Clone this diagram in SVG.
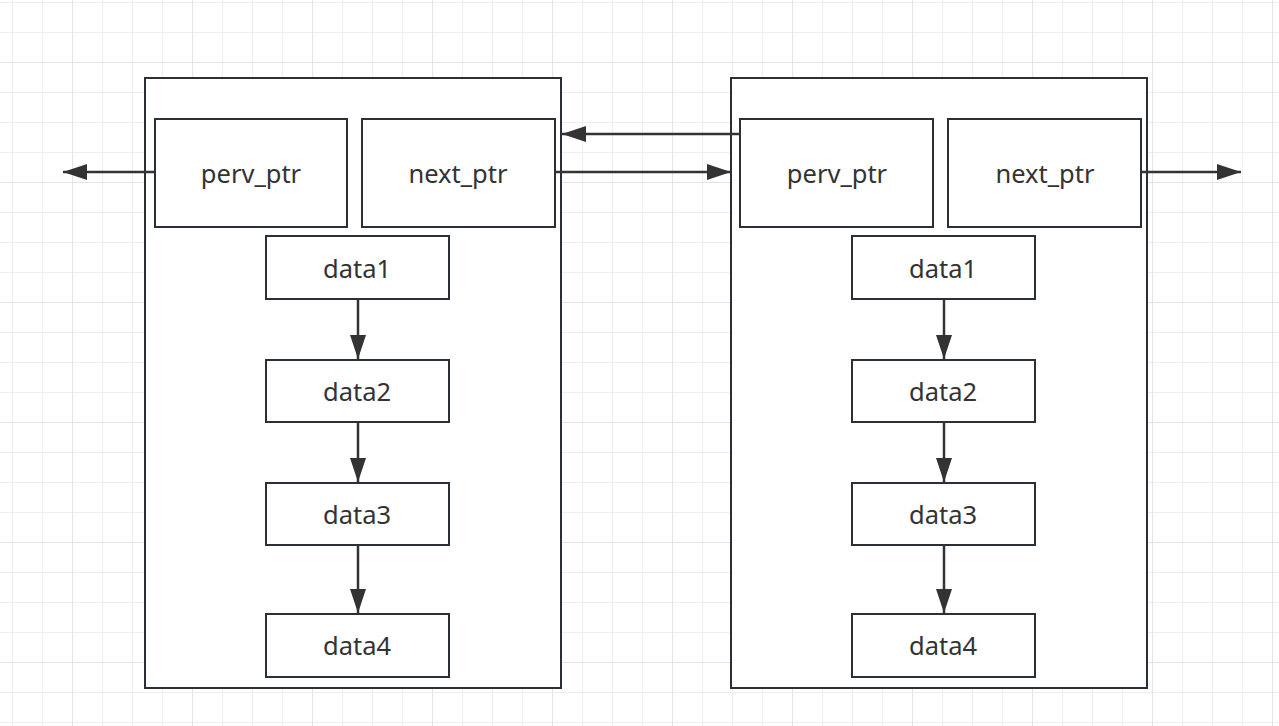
<svg xmlns="http://www.w3.org/2000/svg" width="1279" height="726" viewBox="0 0 1279 726">
<defs>
<pattern id="minor" x="12" y="2" width="30" height="30" patternUnits="userSpaceOnUse">
<path d="M0 0H30M0 0V30" fill="none" stroke="#eeeeee" stroke-width="2"/>
</pattern>
<pattern id="major" x="72" y="62" width="120" height="120" patternUnits="userSpaceOnUse">
<path d="M0 0H120M0 0V120" fill="none" stroke="#e4e4e4" stroke-width="2"/>
</pattern>
<marker id="arr" viewBox="0 0 24 16" refX="24" refY="8" markerWidth="24" markerHeight="16" markerUnits="userSpaceOnUse" orient="auto">
<path d="M0 0L24 8L0 16Z" fill="#333333"/>
</marker>
</defs>
<style>
.box{fill:#ffffff;stroke:#2b3038;stroke-width:2}
.t{font-family:"Noto Sans","Open Sans",sans-serif;font-size:25.5px;fill:#333333;text-anchor:middle;dominant-baseline:central}
.c{fill:none;stroke:#333333;stroke-width:2.5;marker-end:url(#arr)}
</style>
<rect width="1279" height="726" fill="#ffffff"/>
<rect width="1279" height="726" fill="url(#minor)"/>
<rect width="1279" height="726" fill="url(#major)"/>

<g id="nodeA">
<rect class="box" x="145" y="78" width="416" height="610"/>
</g>
<g id="nodeA-perv"><rect class="box" x="155" y="119" width="192" height="108"/><text class="t" x="251" y="173">perv_ptr</text></g>
<g id="nodeA-next"><rect class="box" x="362" y="119" width="193" height="108"/><text class="t" x="458" y="173">next_ptr</text></g>
<g id="nodeA-d1"><rect class="box" x="266" y="236" width="183" height="63"/><text class="t" x="357" y="268">data1</text></g>
<g id="nodeA-d2"><rect class="box" x="266" y="360" width="183" height="62"/><text class="t" x="357" y="391">data2</text></g>
<g id="nodeA-d3"><rect class="box" x="266" y="483" width="183" height="62"/><text class="t" x="357" y="514">data3</text></g>
<g id="nodeA-d4"><rect class="box" x="266" y="614" width="183" height="63"/><text class="t" x="357" y="645">data4</text></g>

<g id="nodeB">
<rect class="box" x="731" y="78" width="416" height="610"/>
</g>
<g id="nodeB-perv"><rect class="box" x="740" y="119" width="193" height="108"/><text class="t" x="837" y="173">perv_ptr</text></g>
<g id="nodeB-next"><rect class="box" x="948" y="119" width="193" height="108"/><text class="t" x="1045" y="173">next_ptr</text></g>
<g id="nodeB-d1"><rect class="box" x="852" y="236" width="183" height="63"/><text class="t" x="943" y="268">data1</text></g>
<g id="nodeB-d2"><rect class="box" x="852" y="360" width="183" height="62"/><text class="t" x="943" y="391">data2</text></g>
<g id="nodeB-d3"><rect class="box" x="852" y="483" width="183" height="62"/><text class="t" x="943" y="514">data3</text></g>
<g id="nodeB-d4"><rect class="box" x="852" y="614" width="183" height="63"/><text class="t" x="943" y="645">data4</text></g>

<g id="connectors">
<path class="c" d="M155 172H63"/>
<path class="c" d="M555 172H731"/>
<path class="c" d="M740 134H562"/>
<path class="c" d="M1141 172H1241"/>
<path class="c" d="M358 299V359"/>
<path class="c" d="M358 422V482"/>
<path class="c" d="M358 545V613"/>
<path class="c" d="M944 299V359"/>
<path class="c" d="M944 422V482"/>
<path class="c" d="M944 545V613"/>
</g>
</svg>
